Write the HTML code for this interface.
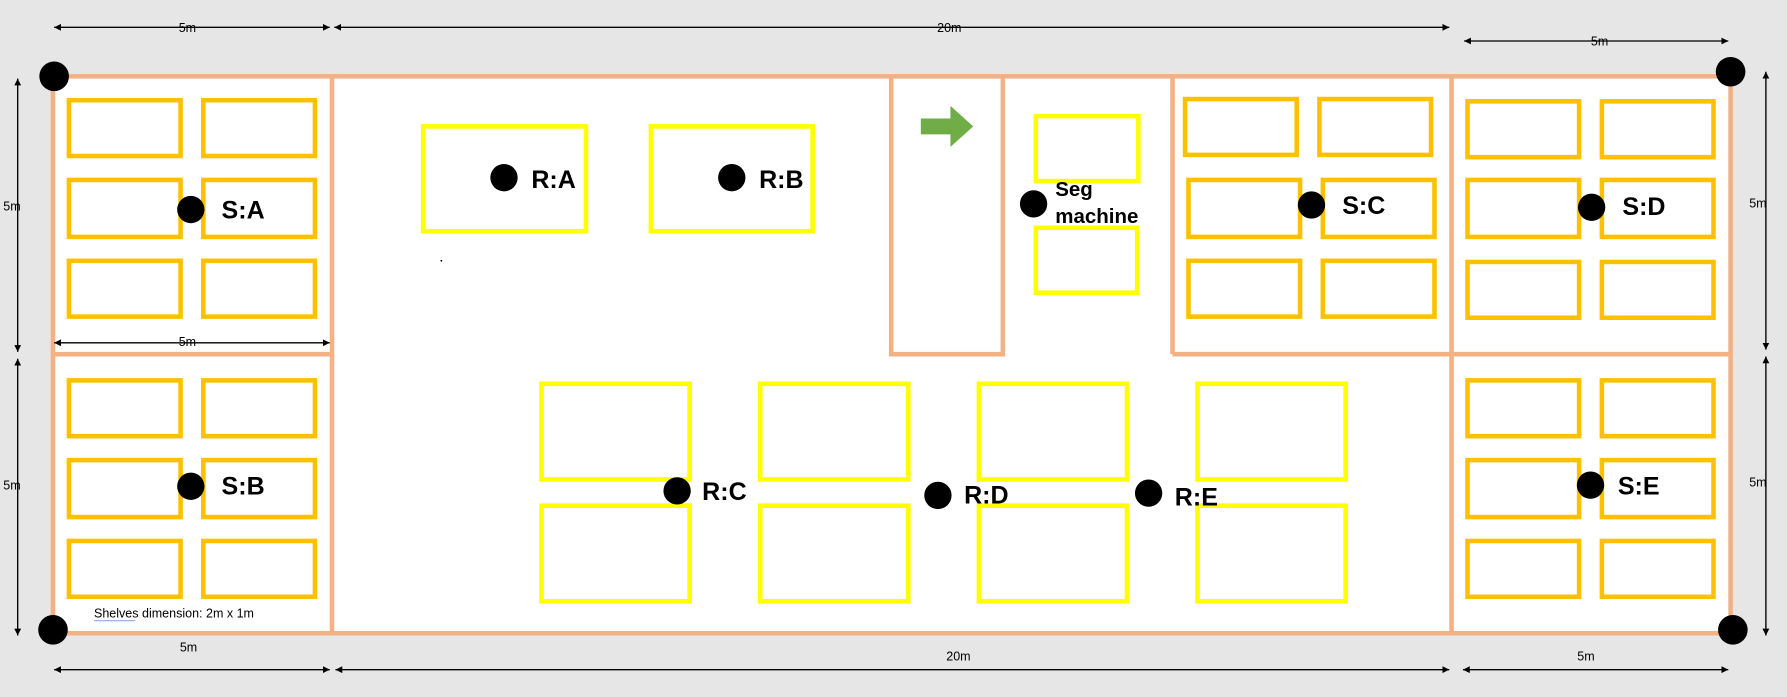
<!DOCTYPE html>
<html><head><meta charset="utf-8"><style>html,body{margin:0;padding:0;background:#e6e6e6}svg{display:block}</style></head><body>
<svg width="1787" height="697" viewBox="0 0 1568 612" xmlns="http://www.w3.org/2000/svg" font-family="Liberation Sans, sans-serif">
<defs><marker id="a" viewBox="0 0 10 10" refX="10" refY="5" markerWidth="5" markerHeight="5" orient="auto-start-reverse"><path d="M0,0L10,5L0,10z" fill="#000"/></marker></defs>
<rect width="1568" height="612" fill="#e6e6e6"/>
<rect x="46" y="67" width="1473" height="489" fill="#fff"/>
<g stroke="#f4b183" stroke-width="4" fill="none">
<rect x="46" y="67" width="1473" height="489"/>
<line x1="291" y1="67" x2="291" y2="556"/><line x1="1274" y1="67" x2="1274" y2="556"/>
<line x1="46" y1="311" x2="291" y2="311"/><line x1="1029" y1="311" x2="1519" y2="311"/>
<rect x="782" y="67" width="98" height="244"/><line x1="1029" y1="67" x2="1029" y2="311"/>
</g>
<g stroke="#ffc000" stroke-width="4" fill="none">
<rect x="60" y="88" width="98" height="49"/><rect x="178" y="88" width="98" height="49"/>
<rect x="60" y="158" width="98" height="50"/><rect x="178" y="158" width="98" height="50"/>
<rect x="60" y="229" width="98" height="49"/><rect x="178" y="229" width="98" height="49"/>
<rect x="60" y="334" width="98" height="49"/><rect x="178" y="334" width="98" height="49"/>
<rect x="60" y="404" width="98" height="50"/><rect x="178" y="404" width="98" height="50"/>
<rect x="60" y="475" width="98" height="49"/><rect x="178" y="475" width="98" height="49"/>
<rect x="1040" y="87" width="98" height="49"/><rect x="1158" y="87" width="98" height="49"/>
<rect x="1043" y="158" width="98" height="50"/><rect x="1161" y="158" width="98" height="50"/>
<rect x="1043" y="229" width="98" height="49"/><rect x="1161" y="229" width="98" height="49"/>
<rect x="1288" y="89" width="98" height="49"/><rect x="1406" y="89" width="98" height="49"/>
<rect x="1288" y="158" width="98" height="50"/><rect x="1406" y="158" width="98" height="50"/>
<rect x="1288" y="230" width="98" height="49"/><rect x="1406" y="230" width="98" height="49"/>
<rect x="1288" y="334" width="98" height="49"/><rect x="1406" y="334" width="98" height="49"/>
<rect x="1288" y="404" width="98" height="50"/><rect x="1406" y="404" width="98" height="50"/>
<rect x="1288" y="475" width="98" height="49"/><rect x="1406" y="475" width="98" height="49"/>
</g>
<g stroke="#ffff00" stroke-width="4" fill="none">
<rect x="371" y="111" width="143" height="92"/><rect x="571" y="111" width="142" height="92"/>
<rect x="909" y="102" width="90" height="57"/><rect x="909" y="200" width="89" height="57"/>
<rect x="475" y="337" width="130" height="84"/><rect x="667" y="337" width="130" height="84"/><rect x="859" y="337" width="130" height="84"/><rect x="1051" y="337" width="130" height="84"/>
<rect x="475" y="444" width="130" height="84"/><rect x="667" y="444" width="130" height="84"/><rect x="859" y="444" width="130" height="84"/><rect x="1051" y="444" width="130" height="84"/>
</g>
<polygon points="808,104 834,104 834,93 854,111 834,129 834,118 808,118" fill="#70ad47"/>
<g fill="#000">
<circle cx="47" cy="67" r="13"/><circle cx="1519" cy="63" r="13"/><circle cx="46" cy="553" r="13"/><circle cx="1521" cy="553" r="13"/>
<circle cx="167" cy="184" r="12"/><circle cx="167" cy="427" r="12"/><circle cx="442" cy="156" r="12"/><circle cx="642" cy="156" r="12"/>
<circle cx="907" cy="179" r="12"/><circle cx="1151" cy="180" r="12"/><circle cx="1397" cy="182" r="12"/>
<circle cx="594" cy="431" r="12"/><circle cx="823" cy="435" r="12"/><circle cx="1008" cy="433" r="12"/><circle cx="1396" cy="426" r="12"/>
</g>
<g font-weight="bold" font-size="22" fill="#000">
<text x="194" y="192">S:A</text><text x="194" y="434">S:B</text><text x="466" y="165">R:A</text><text x="666" y="165">R:B</text>
<text x="1178" y="188">S:C</text><text x="1424" y="189">S:D</text><text x="1420" y="434">S:E</text>
<text x="616" y="439">R:C</text><text x="846" y="442">R:D</text><text x="1031" y="444">R:E</text>
<text x="926" y="172" font-size="18">Seg</text><text x="926" y="196" font-size="18">machine</text>
</g>
<g stroke="#000" stroke-width="1.2" marker-start="url(#a)" marker-end="url(#a)">
<line x1="47" y1="24" x2="289" y2="24"/><line x1="293" y1="24" x2="1272" y2="24"/><line x1="1285" y1="36" x2="1517" y2="36"/>
<line x1="47" y1="588" x2="289" y2="588"/><line x1="294" y1="588" x2="1272" y2="588"/><line x1="1284" y1="588" x2="1517" y2="588"/>
<line x1="47" y1="301" x2="289" y2="301"/>
<line x1="15" y1="69" x2="15" y2="309"/><line x1="15" y1="315" x2="15" y2="558"/>
<line x1="1550" y1="63" x2="1550" y2="307"/><line x1="1550" y1="313" x2="1550" y2="558"/>
</g>
<g font-size="11" fill="#000" text-anchor="middle">
<text x="164" y="28">5m</text><text x="833" y="28">20m</text><text x="1404" y="40">5m</text>
<text x="164" y="304">5m</text><text x="165" y="572">5m</text><text x="841" y="580">20m</text><text x="1392" y="580">5m</text>
<text x="10" y="185">5m</text><text x="10" y="430">5m</text><text x="1543" y="182">5m</text><text x="1543" y="427">5m</text>
</g>
<text x="82" y="542" font-size="11" fill="#000">Shelves dimension: 2m x 1m</text>
<line x1="82" y1="545" x2="118" y2="545" stroke="#8faadc" stroke-width="1"/>
<circle cx="387" cy="229" r="0.8" fill="#000"/>
</svg>
</body></html>
